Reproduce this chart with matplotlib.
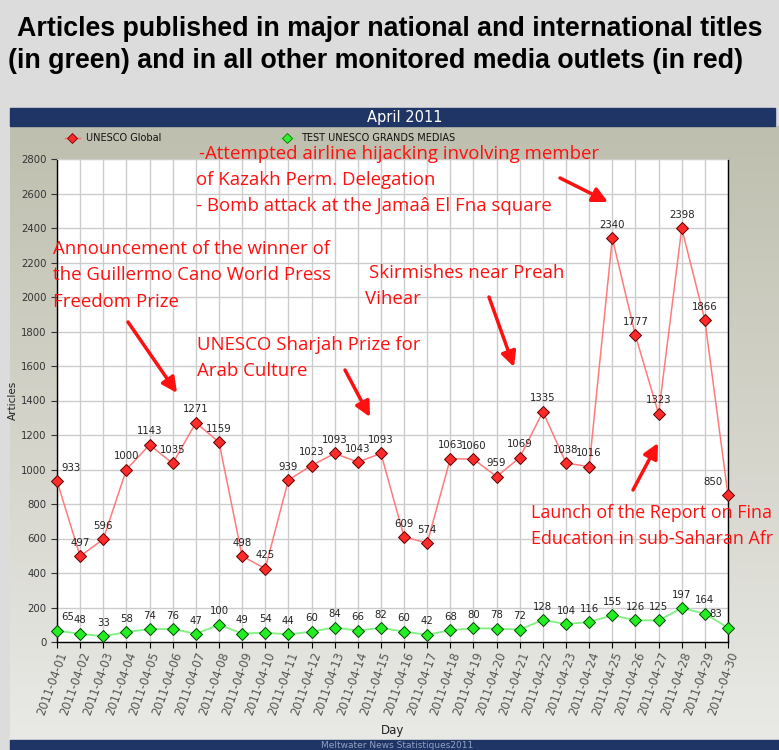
import matplotlib
matplotlib.use("Agg")
import matplotlib.pyplot as plt
import numpy as np
from matplotlib.patches import Rectangle

W, H = 779, 750

days = [f"2011-04-{d:02d}" for d in range(1, 31)]
unesco_global = [933, 497, 596, 1000, 1143, 1035, 1271, 1159, 498, 425,
                 939, 1023, 1093, 1043, 1093, 609, 574, 1063, 1060, 959,
                 1069, 1335, 1038, 1016, 2340, 1777, 1323, 2398, 1866, 850]
grands_medias = [65, 48, 33, 58, 74, 76, 47, 100, 49, 54,
                 44, 60, 84, 66, 82, 60, 42, 68, 80, 78,
                 72, 128, 104, 116, 155, 126, 125, 197, 164, 83]
yticks = list(range(0, 2801, 200))

fig = plt.figure(figsize=(W / 100, H / 100), dpi=100)

def fx(x):
    return x / W

def fy(y):
    return 1 - y / H

# background
bg = fig.add_axes([0, 0, 1, 1], zorder=-10)
bg.set_xlim(0, W)
bg.set_ylim(H, 0)
bg.axis("off")
bg.add_patch(Rectangle((0, 0), W, H, color="#dcdcdc"))
grad = np.linspace(0, 1, 256).reshape(-1, 1)
top = np.array([0xbf, 0xbf, 0xaf]) / 255
bot = np.array([0xe9, 0xe9, 0xe6]) / 255
img = top + (bot - top) * grad[..., None]
img = np.repeat(img, 2, axis=1)
bg.imshow(img, extent=(10, W, 740, 126), aspect="auto", zorder=1)
bg.add_patch(Rectangle((10, 108), 765, 18, color="#1f3566", zorder=2))
bg.add_patch(Rectangle((10, 740), 769, 12, color="#1f3566", zorder=2))
bg.text(405, 117.5, "April 2011", color="white", fontsize=10.5, ha="center", va="center",
        family="DejaVu Sans", zorder=3)
bg.text(397, 746, "Meltwater News Statistiques2011", color="#8fa0c0", fontsize=6.5,
        ha="center", va="center", zorder=3)

# title
fig.text(fx(390), fy(29), "Articles published in major national and international titles",
         fontsize=19.3, fontweight="bold", ha="center", va="center", family="Liberation Sans")
fig.text(fx(376), fy(61), "(in green) and in all other monitored media outlets (in red)",
         fontsize=19.3, fontweight="bold", ha="center", va="center", family="Liberation Sans")

# legend
bg.plot([65, 80], [138, 138], color="#ff6666", lw=1, zorder=3)
bg.plot([72.5], [138], marker="D", ms=5, mfc="#ff2a2a", mec="#700", mew=0.6, zorder=4)
bg.text(86, 138, "UNESCO Global", fontsize=7, va="center", color="#111", zorder=3)
bg.plot([280, 295], [138, 138], color="#66ee66", lw=1, zorder=3)
bg.plot([287.5], [138], marker="D", ms=5, mfc="#33ee33", mec="#070", mew=0.6, zorder=4)
bg.text(301, 138, "TEST UNESCO GRANDS MEDIAS", fontsize=7, va="center", color="#111", zorder=3)

# main axes
L, R, T, B = 57, 728, 159, 642
ax = fig.add_axes([fx(L), fy(B), fx(R - L), (B - T) / H])
ax.set_facecolor("white")
x = np.arange(len(days))
ax.plot(x, unesco_global, color="#ff7b7b", lw=1.1, zorder=3)
ax.plot(x, unesco_global, ls="none", marker="D", ms=6, mfc="#ff2a2a", mec="#5a0000",
        mew=0.7, zorder=4, clip_on=False)
ax.plot(x, grands_medias, color="#80f080", lw=1.3, zorder=3)
ax.plot(x, grands_medias, ls="none", marker="D", ms=6, mfc="#22ee22", mec="#004400",
        mew=0.7, zorder=4, clip_on=False)

for series in (unesco_global, grands_medias):
    for i, v in enumerate(series):
        dx = 0
        ha = "center"
        if i == 0:
            ha = "left"
            dx = 3
        elif i == len(series) - 1:
            ha = "right"
            dx = -4
        ax.annotate(str(v), (i, v), xytext=(dx, 6), textcoords="offset points",
                    ha=ha, va="bottom", fontsize=7.3, color="#222", zorder=5)

ax.set_xlim(0, len(days) - 1)
ax.set_ylim(0, 2800)
ax.set_yticks(yticks)
ax.set_xticks(x)
ax.set_xticklabels(days, rotation=70, ha="right", rotation_mode="anchor",
                   fontsize=8.3, color="#555")
ax.tick_params(axis="y", labelsize=7.3, colors="#333", length=4, width=0.8)
ax.tick_params(axis="x", length=4, width=0.8, pad=2)
ax.grid(True, color="#cccccc", lw=1)
ax.set_axisbelow(True)
for s in ("left", "bottom", "right"):
    ax.spines[s].set_color("black")
    ax.spines[s].set_linewidth(1)
ax.spines["top"].set_color("#cccccc")
ax.set_xlabel("Day", fontsize=8.5, color="#222", labelpad=5)
fig.text(fx(13), fy(400), "Articles", rotation=90, fontsize=7.5, ha="center", va="center", color="#222")

# annotations
red = "#ff1010"
afont = dict(fontsize=13.4, color=red, family="Open Sans", va="center", ha="left")
def txt(px, py, s, size=13.4):
    fig.text(fx(px), fy(py), s, **{**afont, "fontsize": size})

txt(199, 154, "-Attempted airline hijacking involving member")
txt(196, 180, "of Kazakh Perm. Delegation")
txt(196, 206, "- Bomb attack at the Jamaâ El Fna square")
txt(53, 249, "Announcement of the winner of")
txt(53, 275, "the Guillermo Cano World Press")
txt(53, 302, "Freedom Prize")
txt(369, 273, "Skirmishes near Preah")
txt(365, 299, "Vihear")
txt(197, 345, "UNESCO Sharjah Prize for")
txt(197, 371, "Arab Culture")
txt(531, 513, "Launch of the Report on Fina", 12.9)
txt(531, 539, "Education in sub-Saharan Afr", 12.9)

ov = fig.add_axes([0, 0, 1, 1], zorder=10)
ov.set_xlim(0, W)
ov.set_ylim(H, 0)
ov.axis("off")
ov.patch.set_alpha(0)
for (x0, y0, x1, y1) in [(560, 178, 608, 202), (128, 322, 177, 393), (489, 297, 514, 367),
                         (345, 370, 370, 417), (633, 490, 658, 443)]:
    ov.annotate("", xy=(x1, y1), xytext=(x0, y0),
                arrowprops=dict(arrowstyle="-|>,head_length=0.9,head_width=0.45",
                                color=red, lw=2.5, shrinkA=0, shrinkB=0))

fig.savefig("out.png", dpi=100)
